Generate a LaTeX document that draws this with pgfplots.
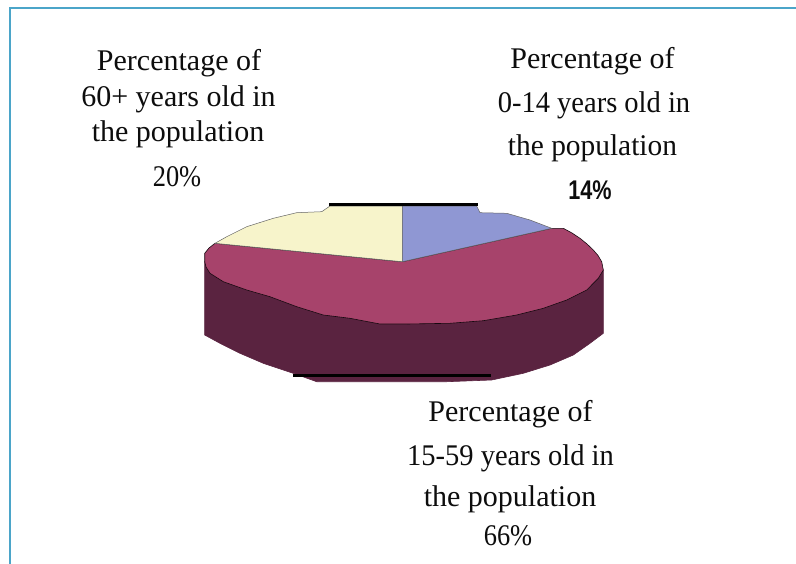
\documentclass[border=0pt]{standalone}
\usepackage{fontspec}
\setmainfont{Liberation Serif}
\newfontfamily\arialfont{Liberation Sans}
\usepackage{pgfplots}
\pgfplotsset{compat=1.18}

\definecolor{framec}{HTML}{4BA5C9}
\definecolor{cyellow}{HTML}{F7F4CB}
\definecolor{cblue}{HTML}{8F97D3}
\definecolor{cmag}{HTML}{A7436B}
\definecolor{cdark}{HTML}{5A2340}

\newcommand{\lbl}[3]{\node[anchor=base,inner sep=0pt,text=black!95] at (axis cs:#1,#2) {\fontsize{30bp}{36bp}\selectfont #3};}

\begin{document}
\begin{tikzpicture}
\begin{axis}[
    width=796bp, height=564bp, scale only axis,
    xmin=0, xmax=796, ymin=0, ymax=564,
    y dir=reverse,
    hide axis,
    clip=true,
    no markers,
]
% white page
\addplot[fill=white,draw=none] coordinates {(0,0)(796,0)(796,564)(0,564)} -- cycle;
% frame
\addplot[framec,line width=1.6bp] coordinates {(10,564)(10,8)(796,8)};

% side of the pie
\addplot[fill=cdark,draw=cdark,line width=0.6bp] coordinates {
(603.3,270)(603.3,333.3)(590,343.3)(573.3,355)(550,365)(523.3,373.3)(491.7,380)
(446.7,381.7)(316.7,381.7)(293.3,373.3)(263.3,363.3)(240,353.3)(220,343.3)
(204.7,335)(204.7,261.7)(400,300)} -- cycle;

% 15-59: 66%
\addplot[fill=cmag,draw=black!75!cdark,line width=0.6bp] coordinates {
(551.7,228.3)(563.3,228.3)(572,233)(580,238.3)(587,244)(593.3,250)(598,255.5)(601.7,261.7)(603.3,270)
(598.3,278.3)(586.7,290)(566.7,300)(543.3,308.3)(516.7,315)(483.3,320.7)
(450,323.3)(406.7,324)(380,324)(350,318.3)(323.3,315)(296.7,306.7)(270,296.7)
(246.7,290)(223.3,281.7)(210,273.3)(206,267)(204.7,261.7)(204.7,253.3)(209,248)(215,243.3)
(402.3,261.7)} -- cycle;
% 60+: 20%
\addplot[fill=cyellow,draw=black!60,line width=0.5bp] coordinates {
(215,243.3)(226.7,236.7)(246.7,226.7)(273.3,218.3)(296.7,212.7)(321.7,211.7)
(330,206)(402.3,206)(402.3,261.7)} -- cycle;
% 0-14: 14%
\addplot[fill=cblue,draw=black!60,line width=0.5bp] coordinates {
(402.3,206)(476.7,206)(480,212.7)(506.7,213.3)(530,220)(551.7,228.3)(402.3,261.7)} -- cycle;

% black rules on the pie
\addplot[black,line width=3bp] coordinates {(329,204)(478,204)};
\addplot[black,line width=3bp] coordinates {(293,375)(491,375)};

\lbl{179}{71}{Percentage of}
\lbl{178.5}{106}{60+ years old in}
\lbl{178}{141}{the population}
\lbl{177}{186}{\scalebox{.88}[1]{20\%}}

\lbl{592.5}{69}{Percentage of}
\lbl{594}{112}{\scalebox{.95}[1]{0-14 years old in}}
\lbl{592.5}{155}{\scalebox{.98}[1]{the population}}
\node[anchor=base,inner sep=0pt,text=black!95] at (axis cs:590,199)
  {\arialfont\bfseries\fontsize{27bp}{30bp}\selectfont\scalebox{.8}[1]{14\%}};

\lbl{510.5}{421}{Percentage of}
\lbl{510.5}{465}{\scalebox{.95}[1]{15-59 years old in}}
\lbl{510}{506}{the population}
\lbl{508}{545}{\scalebox{.88}[1]{66\%}}
\end{axis}
\end{tikzpicture}
\end{document}
